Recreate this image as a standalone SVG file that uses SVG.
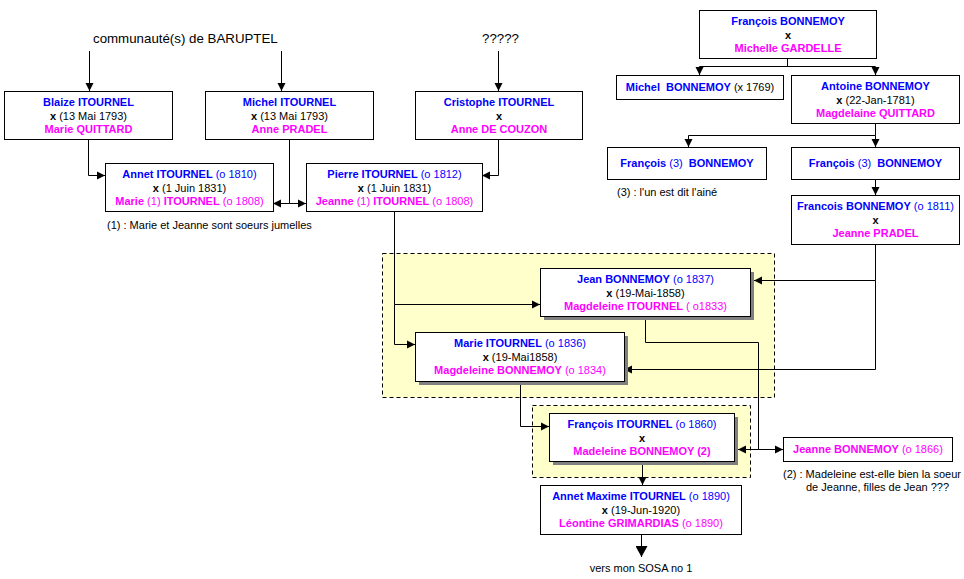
<svg xmlns="http://www.w3.org/2000/svg" width="964" height="579" viewBox="0 0 964 579">
<style>
text{font-family:"Liberation Sans",Arial,sans-serif;font-size:11px;fill:#000}
.c{text-anchor:middle}
.b{fill:#0000FF}
.m{fill:#FF00FF}
.bd{font-weight:bold}
.box{fill:#fff;stroke:#000;stroke-width:1}
.sh{fill:#808080}
.zone{fill:#FFFFCC;stroke:#000;stroke-width:1;stroke-dasharray:4,3}
.ln{fill:none;stroke:#000;stroke-width:1}
.big{font-size:13.3px}
</style>
<defs>
<marker id="a" markerUnits="userSpaceOnUse" markerWidth="9" markerHeight="9" refX="8" refY="4.5" orient="auto"><path d="M0,0.5 L8,4.5 L0,8.5 z" fill="#000"/></marker>
<marker id="A" markerUnits="userSpaceOnUse" markerWidth="12" markerHeight="12" refX="11" refY="6" orient="auto"><path d="M0,0 L11,6 L0,12 z" fill="#000"/></marker>
</defs>
<rect class="zone" x="382.5" y="253.5" width="392" height="144"/>
<rect class="zone" x="532.5" y="405.5" width="218" height="72"/>
<text class="big" x="93" y="43">communauté(s) de BARUPTEL</text>
<text class="big" x="482" y="43">?????</text>
<g id="connectors">
<path class="ln" d="M89.5,51 V91" marker-end="url(#a)"/>
<path class="ln" d="M281.5,51 V91" marker-end="url(#a)"/>
<path class="ln" d="M498.5,51 V91" marker-end="url(#a)"/>
<path class="ln" d="M88.5,139 V175.5 H105" marker-end="url(#a)"/>
<path class="ln" d="M289.5,139 V203.5 H273" marker-end="url(#a)"/>
<path class="ln" d="M289.5,203.5 H306" marker-end="url(#a)"/>
<path class="ln" d="M498.5,139 V175.5 H482" marker-end="url(#a)"/>
<path class="ln" d="M394.5,211 V304.5 H540" marker-end="url(#a)"/>
<path class="ln" d="M394.5,304.5 V344.5 H415" marker-end="url(#a)"/>
<path class="ln" d="M787.5,58 V66.5"/>
<path class="ln" d="M699.5,66.5 H875.5"/>
<path class="ln" d="M699.5,66.5 V75" marker-end="url(#a)"/>
<path class="ln" d="M875.5,66.5 V75" marker-end="url(#a)"/>
<path class="ln" d="M875.5,123 V135.5 H688.5 V147" marker-end="url(#a)"/>
<path class="ln" d="M875.5,135.5 V147" marker-end="url(#a)"/>
<path class="ln" d="M875.5,179 V195" marker-end="url(#a)"/>
<path class="ln" d="M875.5,244 V280.5 H754" marker-end="url(#a)"/>
<path class="ln" d="M875.5,280.5 V369.5 H624" marker-end="url(#a)"/>
<path class="ln" d="M645.5,316 V342.5 H758.5 V449.5 H738" marker-end="url(#a)"/>
<path class="ln" d="M758.5,449.5 H783" marker-end="url(#a)"/>
<path class="ln" d="M520.5,381 V426.5 H549" marker-end="url(#a)"/>
<path class="ln" d="M642.5,461 V485" marker-end="url(#a)"/>
<path class="ln" d="M641.5,534 V557" marker-end="url(#A)"/>
</g>
<g id="blaize">
<rect class="box" x="4.5" y="91.5" width="168" height="48"/>
<text class="c" x="88.5" y="106"><tspan class="b bd">Blaize ITOURNEL</tspan></text>
<text class="c" x="88.5" y="119.5"><tspan class="bd">x</tspan> (13 Mai 1793)</text>
<text class="c" x="88.5" y="133"><tspan class="m bd">Marie QUITTARD</tspan></text>
</g>
<g id="michel-itournel">
<rect class="box" x="205.5" y="91.5" width="168" height="48"/>
<text class="c" x="289.5" y="106"><tspan class="b bd">Michel ITOURNEL</tspan></text>
<text class="c" x="289.5" y="119.5"><tspan class="bd">x</tspan> (13 Mai 1793)</text>
<text class="c" x="289.5" y="133"><tspan class="m bd">Anne PRADEL</tspan></text>
</g>
<g id="cristophe">
<rect class="box" x="415.5" y="91.5" width="167" height="48"/>
<text class="c" x="499" y="106"><tspan class="b bd">Cristophe ITOURNEL</tspan></text>
<text class="c bd" x="499" y="119.5">x</text>
<text class="c" x="499" y="133"><tspan class="m bd">Anne DE COUZON</tspan></text>
</g>
<g id="annet">
<rect class="box" x="105.5" y="163.5" width="168" height="48"/>
<text class="c" x="189.5" y="178"><tspan class="b bd">Annet ITOURNEL</tspan><tspan class="b"> (o 1810)</tspan></text>
<text class="c" x="189.5" y="191.5"><tspan class="bd">x</tspan> (1 Juin 1831)</text>
<text class="c" x="189.5" y="205"><tspan class="m bd">Marie</tspan><tspan class="m"> (1) </tspan><tspan class="m bd">ITOURNEL</tspan><tspan class="m"> (o 1808)</tspan></text>
</g>
<g id="pierre">
<rect class="box" x="306.5" y="163.5" width="176" height="48"/>
<text class="c" x="394.5" y="178"><tspan class="b bd">Pierre ITOURNEL</tspan><tspan class="b"> (o 1812)</tspan></text>
<text class="c" x="394.5" y="191.5"><tspan class="bd">x</tspan> (1 Juin 1831)</text>
<text class="c" x="394.5" y="205"><tspan class="m bd">Jeanne</tspan><tspan class="m"> (1) </tspan><tspan class="m bd">ITOURNEL</tspan><tspan class="m"> (o 1808)</tspan></text>
</g>
<text x="107" y="229">(1) : Marie et Jeanne sont soeurs jumelles</text>
<g id="francois-bonnemoy-top">
<rect class="box" x="699.5" y="10.5" width="177" height="48"/>
<text class="c" x="788" y="25"><tspan class="b bd">François BONNEMOY</tspan></text>
<text class="c bd" x="788" y="38.5">x</text>
<text class="c" x="788" y="52"><tspan class="m bd">Michelle GARDELLE</tspan></text>
</g>
<g id="michel-bonnemoy">
<rect class="box" x="616.5" y="75.5" width="167" height="24"/>
<text class="c" x="700" y="91"><tspan class="b bd">Michel&#160; BONNEMOY</tspan> (x 1769)</text>
</g>
<g id="antoine">
<rect class="box" x="791.5" y="75.5" width="168" height="48"/>
<text class="c" x="875.5" y="90"><tspan class="b bd">Antoine BONNEMOY</tspan></text>
<text class="c" x="875.5" y="103.5"><tspan class="bd">x</tspan> (22-Jan-1781)</text>
<text class="c" x="875.5" y="117"><tspan class="m bd">Magdelaine QUITTARD</tspan></text>
</g>
<g id="francois3-left">
<rect class="box" x="607.5" y="147.5" width="159" height="32"/>
<text class="c" x="687" y="167"><tspan class="b bd">François</tspan><tspan class="b"> (3)&#160; </tspan><tspan class="b bd">BONNEMOY</tspan></text>
</g>
<text x="617" y="196">(3) : l'un est dit l'ainé</text>
<g id="francois3-right">
<rect class="box" x="791.5" y="147.5" width="168" height="32"/>
<text class="c" x="875.5" y="167"><tspan class="b bd">François</tspan><tspan class="b"> (3)&#160; </tspan><tspan class="b bd">BONNEMOY</tspan></text>
</g>
<g id="francois-1811">
<rect class="box" x="791.5" y="195.5" width="168" height="49"/>
<text class="c" x="875.5" y="210"><tspan class="b bd">Francois BONNEMOY</tspan><tspan class="b"> (o 1811)</tspan></text>
<text class="c bd" x="875.5" y="223.5">x</text>
<text class="c" x="875.5" y="237"><tspan class="m bd">Jeanne PRADEL</tspan></text>
</g>
<g id="jean">
<rect class="sh" x="544" y="272" width="210" height="48"/>
<rect class="box" x="540.5" y="268.5" width="210" height="48"/>
<text class="c" x="645.5" y="283"><tspan class="b bd">Jean BONNEMOY</tspan><tspan class="b"> (o 1837)</tspan></text>
<text class="c" x="645.5" y="296.5"><tspan class="bd">x</tspan> (19-Mai-1858)</text>
<text class="c" x="645.5" y="310"><tspan class="m bd">Magdeleine ITOURNEL</tspan><tspan class="m"> ( o1833)</tspan></text>
</g>
<g id="marie">
<rect class="sh" x="419" y="336" width="209" height="49"/>
<rect class="box" x="415.5" y="332.5" width="209" height="49"/>
<text class="c" x="520" y="347"><tspan class="b bd">Marie ITOURNEL</tspan><tspan class="b"> (o 1836)</tspan></text>
<text class="c" x="520" y="360.5"><tspan class="bd">x</tspan> (19-Mai1858)</text>
<text class="c" x="520" y="374"><tspan class="m bd">Magdeleine BONNEMOY</tspan><tspan class="m"> (o 1834)</tspan></text>
</g>
<g id="francois-itournel">
<rect class="sh" x="553" y="417" width="185" height="48"/>
<rect class="box" x="549.5" y="413.5" width="185" height="48"/>
<text class="c" x="642" y="428"><tspan class="b bd">François ITOURNEL</tspan><tspan class="b"> (o 1860)</tspan></text>
<text class="c bd" x="642" y="441.5">x</text>
<text class="c" x="642" y="455"><tspan class="m bd">Madeleine BONNEMOY (2)</tspan></text>
</g>
<g id="jeanne">
<rect class="box" x="783.5" y="437.5" width="169" height="24"/>
<text class="c" x="868" y="453"><tspan class="m bd">Jeanne BONNEMOY</tspan><tspan class="m"> (o 1866)</tspan></text>
</g>
<text x="783" y="478">(2) : Madeleine est-elle bien la soeur</text>
<text x="806" y="491">de Jeanne, filles de Jean ???</text>
<g id="annet-maxime">
<rect class="box" x="540.5" y="485.5" width="201" height="49"/>
<text class="c" x="641" y="500"><tspan class="b bd">Annet Maxime ITOURNEL</tspan><tspan class="b"> (o 1890)</tspan></text>
<text class="c" x="641" y="513.5"><tspan class="bd">x</tspan> (19-Jun-1920)</text>
<text class="c" x="641" y="527"><tspan class="m bd">Léontine GRIMARDIAS</tspan><tspan class="m"> (o 1890)</tspan></text>
</g>
<text class="c" x="641" y="572">vers mon SOSA no 1</text>
</svg>
